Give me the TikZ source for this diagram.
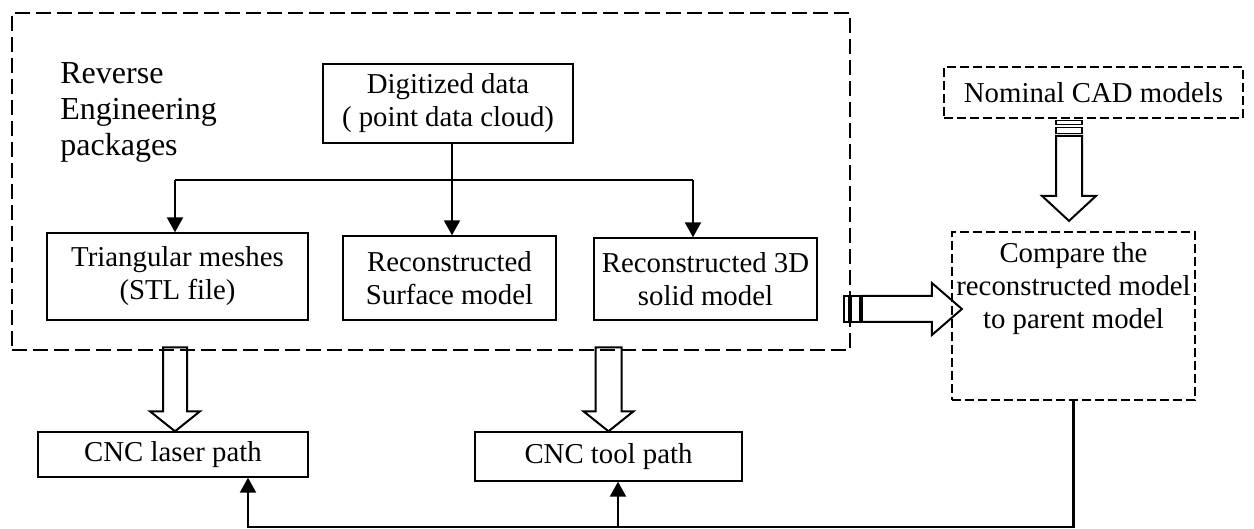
\documentclass[tikz,border=0pt]{standalone}
\usepackage{fontspec}
\setmainfont{Liberation Serif}
\usetikzlibrary{arrows.meta,calc}

\tikzset{
  box/.style={draw, line width=0.7pt, align=center, inner sep=0pt},
  dbox/.style={draw, line width=1.1pt, dash pattern=on 4.5pt off 2pt, align=center, inner sep=0pt},
  tip/.style={line width=1.1pt, -{Triangle[width=8pt,length=7.5pt]}},
  hollow/.style={draw, line width=1pt, line join=miter},
}

\begin{document}
\begin{tikzpicture}[x=0.5pt, y=-0.5pt, font=\fontsize{14.4}{16.5}\selectfont]
\useasboundingbox (0,0) rectangle (1254,529);

% reverse engineering part
\node[draw, line width=1.4pt, dash pattern=on 7.5pt off 3pt, minimum width=419pt, minimum height=168.5pt] (re) at (431,181.5) {};
\node[anchor=north west, align=left, inner sep=0pt, font=\fontsize{16}{18}\selectfont] (retext) at (60,62) {Reverse\\Engineering\\packages};
\node[box, minimum width=125pt, minimum height=39.5pt] (digit) at (448,103.5) {Digitized data\\( point data cloud)};
\node[box, minimum width=130.5pt, minimum height=43.5pt] (tri) at (177.5,276.5) {Triangular meshes\\(STL file)};
\node[box, minimum width=106.5pt, minimum height=42pt] (surf) at (449.5,278) {Reconstructed\\Surface model};
\node[box, minimum width=111.5pt, minimum height=41pt] (solid) at (705.5,279) {Reconstructed 3D\\solid model};

% inspection part
\node[dbox, minimum width=149.5pt, minimum height=25.5pt] (nominal) at (1093.5,92.5) {Nominal CAD models};
\node[dbox, minimum width=121.5pt, minimum height=84pt] (compare) at (1073.5,316) {};
\node[anchor=north, align=center, inner sep=0pt] (cmptext) at ([yshift=-5.5pt]compare.north) {Compare the\\reconstructed model\\to parent model};

% machining part
\node[box, minimum width=135pt, minimum height=22.5pt] (laser) at (173,454.5) {CNC laser path};
\node[box, minimum width=133.5pt, minimum height=24.5pt] (tool) at (608.5,456.5) {CNC tool path};

% tree of arrows
\coordinate (split) at (452,180);
\coordinate (lefttop) at (175,180);
\coordinate (righttop) at (693,180);
\draw[tip] (digit.south -| split) -- (surf.north -| split);
\draw[line width=0.8pt] (lefttop) -- (righttop);
\draw[tip] (lefttop) -- (lefttop |- tri.north);
\draw[tip] (righttop) -- (righttop |- solid.north);

% block arrows
\draw[hollow] (laser.north -| lefttop) -- ++(-25,-20) -- ++(13,0) -- ++(0,-64) -- ++(24,0) -- ++(0,64) -- ++(13,0) -- cycle;
\draw[hollow] (tool.north) -- ++(-25,-20) -- ++(12,0) -- ++(0,-64) -- ++(26,0) -- ++(0,64) -- ++(12,0) -- cycle;

\coordinate (cmpin) at ($(compare.west)+(11,-7)$);
\draw[hollow] (cmpin) -- ++(-30,-26) -- ++(0,13) -- ++(-70,0) -- ++(0,26) -- ++(70,0) -- ++(0,13) -- cycle;
\draw[hollow, line width=0.6pt] ($(cmpin)+(-118,-13)$) rectangle ++(5,26);
\draw[hollow, line width=0.6pt] ($(cmpin)+(-111,-13)$) rectangle ++(9,26);

\coordinate (nomout) at ($(compare.north)+(-4.5,-10)$);
\draw[hollow] (nomout) -- ++(-27,-25) -- ++(14,0) -- ++(0,-60) -- ++(26,0) -- ++(0,60) -- ++(14,0) -- cycle;
\draw[hollow, line width=0.6pt] ($(nomout)+(-13,-100)$) rectangle ++(26,4);
\draw[hollow, line width=0.6pt] ($(nomout)+(-13,-93)$) rectangle ++(26,6);

% feedback
\coordinate (loop) at (248,527);
\coordinate (toolin) at ([xshift=4.75pt]tool.south);
\draw[tip] (compare.south) |- (loop) -- (loop |- laser.south);
\draw[tip] (toolin |- loop) -- (toolin);
\end{tikzpicture}
\end{document}
